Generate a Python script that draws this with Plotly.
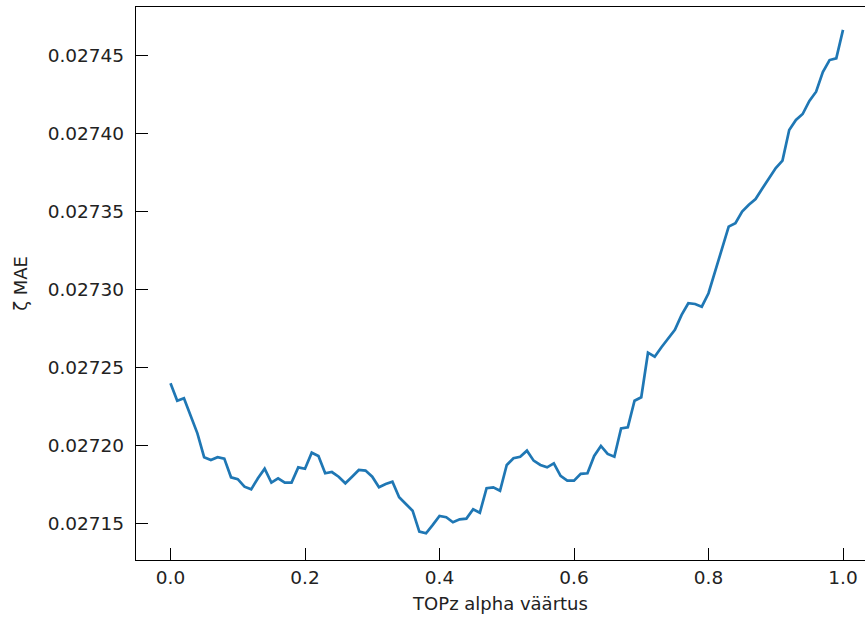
import numpy as np
import plotly.graph_objects as go

# TOPz alpha sweep: alpha from 0.0 to 1.0 in steps of 0.01
alpha = [round(i * 0.01, 2) for i in range(101)]

# zeta MAE for each alpha value
zeta_mae = [
    0.0272402, 0.0272290, 0.0272306, 0.0272188, 0.0272081, 0.0271928, 0.0271910, 0.0271928, 0.0271919, 0.0271799,
    0.0271787, 0.0271739, 0.0271722, 0.0271793, 0.0271854, 0.0271765, 0.0271793, 0.0271765, 0.0271765, 0.0271863,
    0.0271854, 0.0271957, 0.0271936, 0.0271825, 0.0271833, 0.0271803, 0.0271761, 0.0271803, 0.0271846, 0.0271842,
    0.0271803, 0.0271735, 0.0271756, 0.0271771, 0.0271671, 0.0271628, 0.0271585, 0.0271451, 0.0271440, 0.0271494,
    0.0271551, 0.0271543, 0.0271511, 0.0271530, 0.0271534, 0.0271594, 0.0271572, 0.0271729, 0.0271735, 0.0271713,
    0.0271878, 0.0271921, 0.0271931, 0.0271970, 0.0271906, 0.0271878, 0.0271863, 0.0271889, 0.0271808, 0.0271778,
    0.0271778, 0.0271821, 0.0271825, 0.0271936, 0.0272000, 0.0271949, 0.0271931, 0.0272113, 0.0272120, 0.0272290,
    0.0272312, 0.0272598, 0.0272572, 0.0272633, 0.0272690, 0.0272744, 0.0272840, 0.0272915, 0.0272910, 0.0272893,
    0.0272979, 0.0273122, 0.0273263, 0.0273406, 0.0273428, 0.0273502, 0.0273546, 0.0273583, 0.0273651, 0.0273719,
    0.0273782, 0.0273829, 0.0274026, 0.0274090, 0.0274128, 0.0274212, 0.0274271, 0.0274397, 0.0274474, 0.0274485,
    0.0274667,
]

x_label = "TOPz alpha väärtus"
y_label = "ζ MAE"

font_family = "DejaVu Sans, Liberation Sans, sans-serif"
text_color = "#222"

fig = go.Figure(
    go.Scatter(
        x=alpha,
        y=zeta_mae,
        mode="lines",
        line=dict(color="#1f77b4", width=2.7),
        showlegend=False,
    )
)

axis_common = dict(
    showgrid=False,
    zeroline=False,
    showline=True,
    linecolor="black",
    linewidth=1.3,
    ticks="inside",
    ticklen=12,
    tickwidth=1.3,
    tickcolor="black",
    tickfont=dict(family=font_family, size=18.5, color=text_color),
    title_font=dict(family=font_family, size=18, color=text_color),
)

fig.update_xaxes(
    **axis_common,
    range=[-0.0513, 1.0327],
    tick0=0,
    dtick=0.2,
    tickformat=".1f",
    mirror=True,
    ticklabelstandoff=1,
    title_text=x_label,
    title_standoff=10,
)
fig.update_yaxes(
    **axis_common,
    range=[0.0271269, 0.0274814],
    tick0=0.02715,
    dtick=0.00005,
    tickformat=".5f",
    mirror=False,
    ticklabelstandoff=7,
    title_text=y_label,
    title_standoff=15,
)

fig.update_layout(
    width=865,
    height=620,
    margin=dict(l=136, r=0, t=7, b=60),
    plot_bgcolor="white",
    paper_bgcolor="white",
    font=dict(family=font_family, color=text_color),
)

fig.write_html("out.html")
